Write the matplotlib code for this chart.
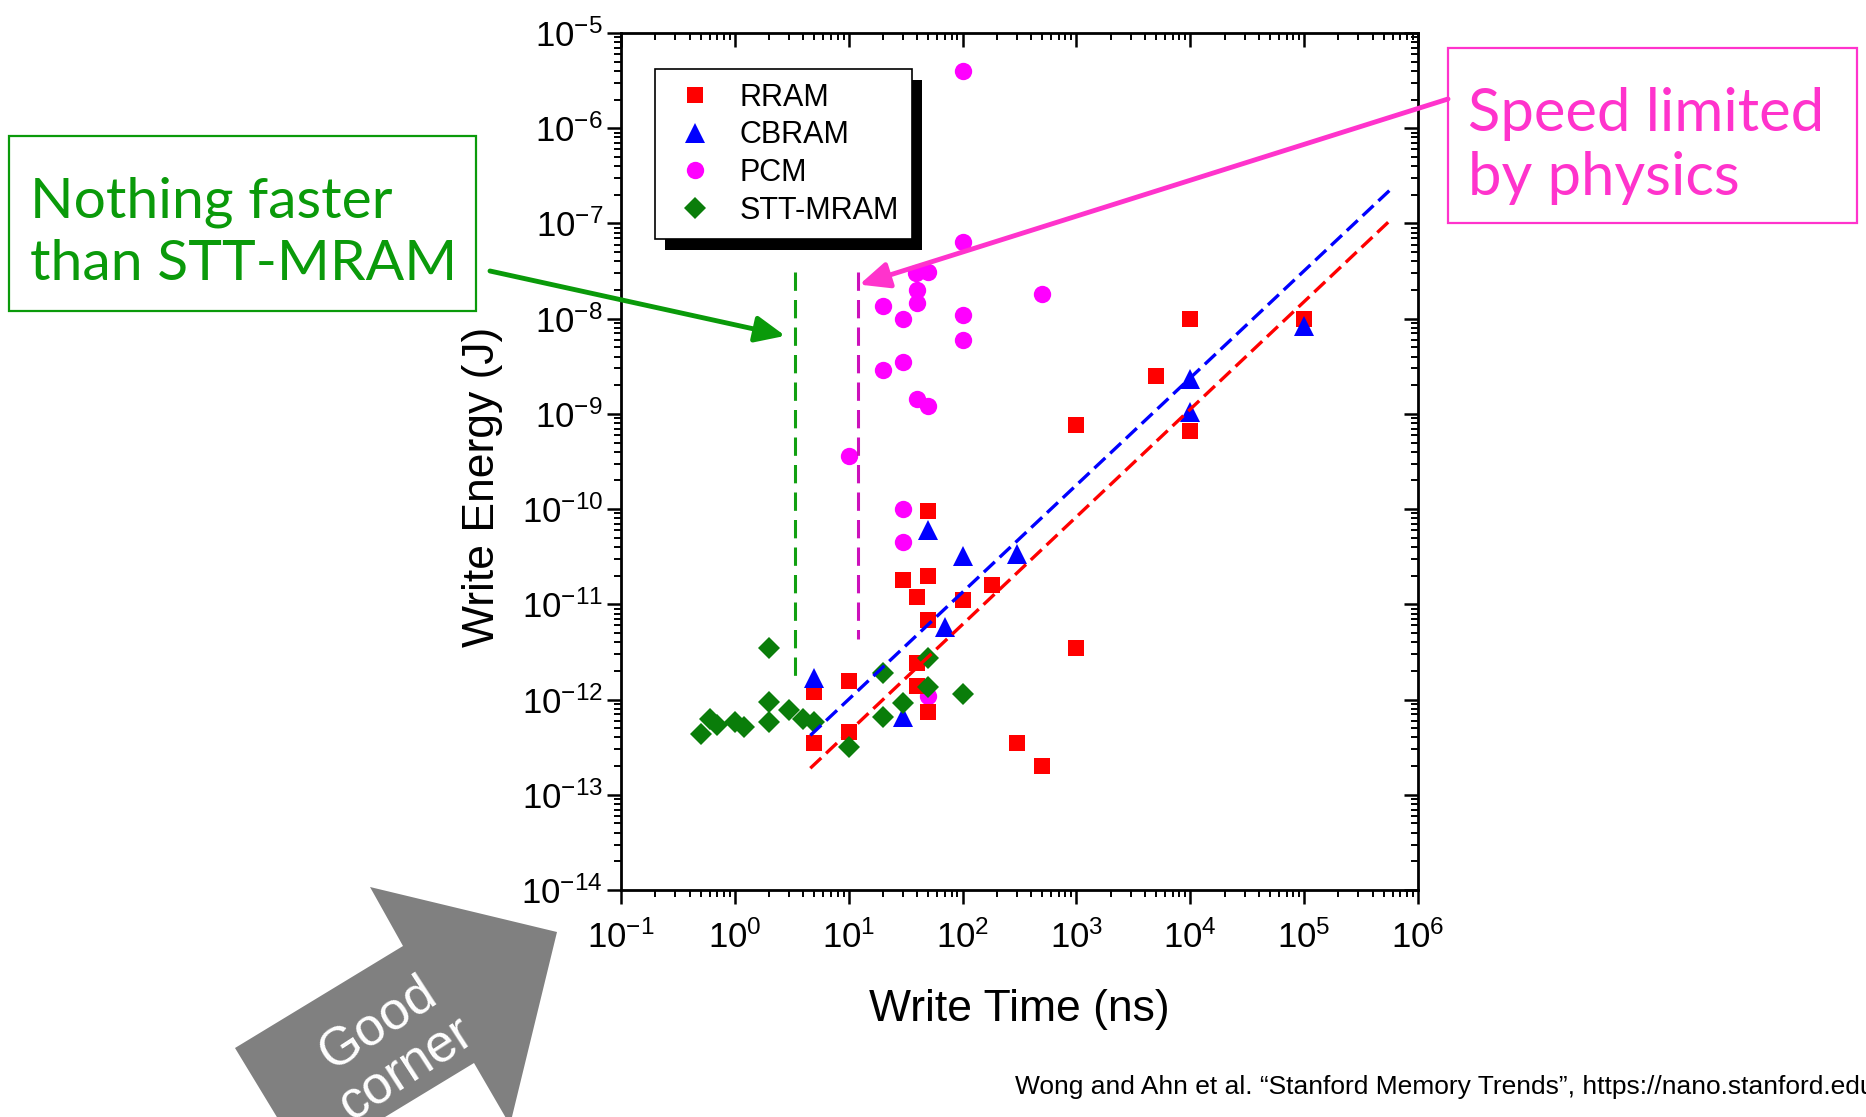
import numpy as np
import matplotlib.pyplot as plt
from matplotlib.patches import Polygon, Rectangle
from matplotlib.ticker import LogLocator, NullFormatter

plt.rcParams['font.family'] = ['Liberation Sans', 'DejaVu Sans']
plt.rcParams['mathtext.default'] = 'regular'

# write time (ns) / write energy (J)
rram_time = [1e4, 1e5, 5e3, 1e3, 1e4, 50, 30, 50, 40, 100, 180, 50, 1e3,
             40, 40, 10, 5, 50, 10, 5, 300, 500]
rram_energy = [1e-8, 1e-8, 2.5e-9, 7.6e-10, 6.6e-10, 9.5e-11, 1.8e-11, 2.0e-11,
               1.2e-11, 1.1e-11, 1.6e-11, 6.8e-12, 3.5e-12, 2.4e-12, 1.4e-12,
               1.55e-12, 1.2e-12, 7.4e-13, 4.6e-13, 3.5e-13, 3.5e-13, 2e-13]

cbram_time = [1e5, 1e4, 1e4, 50, 100, 300, 70, 5, 30]
cbram_energy = [8.3e-9, 2.3e-9, 1.05e-9, 6e-11, 3.2e-11, 3.4e-11, 5.8e-12,
                1.7e-12, 6.6e-13]

pcm_time = [100, 100, 39, 50, 40, 40, 20, 30, 100, 100, 500, 30, 20, 40, 50,
            10, 30, 30, 50]
pcm_energy = [4.0e-6, 6.4e-8, 3.0e-8, 3.1e-8, 2.0e-8, 1.45e-8, 1.35e-8, 1.0e-8,
              1.08e-8, 6e-9, 1.8e-8, 3.5e-9, 2.9e-9, 1.45e-9, 1.2e-9, 3.6e-10,
              1.0e-10, 4.5e-11, 1.1e-12]

stt_time = [2, 20, 50, 50, 100, 30, 2, 2, 3, 4, 5, 20, 10, 0.5, 0.6, 0.7, 1.0, 1.2]
stt_energy = [3.5e-12, 1.9e-12, 2.7e-12, 1.35e-12, 1.15e-12, 9.1e-13, 9.5e-13,
              5.8e-13, 7.8e-13, 6.3e-13, 5.8e-13, 6.6e-13, 3.2e-13, 4.4e-13,
              6.3e-13, 5.4e-13, 5.8e-13, 5.1e-13]

# dashed trend lines (end points)
trend_time = [4.6, 5.8e5]
cbram_trend = [4.2e-13, 2.3e-7]
rram_trend = [1.9e-13, 1.1e-7]

# vertical speed limits
stt_limit_time = [3.36, 3.36]
stt_limit_energy = [3.1e-8, 1.5e-12]
pcm_limit_time = [12, 12]
pcm_limit_energy = [3.1e-8, 4.3e-12]

W, H = 1866, 1117
fig = plt.figure(figsize=(W / 100, H / 100), dpi=100)


def fx(px):
    return px / W


def fy(py):
    return 1 - py / H


ax = fig.add_axes([fx(621), fy(890), (1418 - 621) / W, (890 - 33) / H])

h_pcm, = ax.plot(pcm_time, pcm_energy, ls='none', marker='o', ms=12.5,
                 color='#ff00ff', mew=0)
h_rram, = ax.plot(rram_time, rram_energy, ls='none', marker='s', ms=11.5,
                  color='#ff0000', mew=0)
h_cbram, = ax.plot(cbram_time, cbram_energy, ls='none', marker='^', ms=14,
                   color='#0000ff', mew=0)
h_stt, = ax.plot(stt_time, stt_energy, ls='none', marker='D', ms=11,
                 color='#0a7d0a', mew=0)

ax.plot(trend_time, cbram_trend, color='#0000ff', lw=2.4, ls=(0, (4.5, 2)))
ax.plot(trend_time, rram_trend, color='#ff0000', lw=2.4, ls=(0, (4.5, 2)))
ax.plot(stt_limit_time, stt_limit_energy, color='#11a011', lw=2.2, ls=(0, (6, 3)))
ax.plot(pcm_limit_time, pcm_limit_energy, color='#cc11bb', lw=2.2, ls=(0, (6, 3)))

ax.set_xscale('log')
ax.set_yscale('log')
ax.set_xlim(1e-1, 1e6)
ax.set_ylim(1e-14, 1e-5)
for axis in (ax.xaxis, ax.yaxis):
    axis.set_major_locator(LogLocator(base=10, numticks=20))
    axis.set_minor_locator(LogLocator(base=10, subs=np.arange(2, 10), numticks=200))
    axis.set_minor_formatter(NullFormatter())

for s in ax.spines.values():
    s.set_linewidth(2.0)
ax.tick_params(which='both', direction='out', top=False, right=False,
               labelsize=25)
ax.tick_params(which='major', length=10, width=1.8)
ax.tick_params(which='minor', length=5, width=1.4)
ax.tick_params(axis='x', which='major', pad=12)
ax.tick_params(axis='y', which='major', pad=3)

ax.set_xlabel('Write Time (ns)', fontsize=32)
ax.set_ylabel('Write Energy (J)', fontsize=32)
ax.xaxis.set_label_coords(0.5, -0.116)
ax.yaxis.set_label_coords(-0.148, 0.47)

leg = ax.legend([h_rram, h_cbram, h_pcm, h_stt],
                ['RRAM', 'CBRAM', 'PCM', 'STT-MRAM'],
                loc='upper left', bbox_to_anchor=(0.043, 0.958),
                borderaxespad=0, fancybox=False, edgecolor='black',
                framealpha=1, fontsize=22, handlelength=1.7,
                handletextpad=0.6, labelspacing=0.25, borderpad=0.45,
                numpoints=1)
leg.get_frame().set_linewidth(1.2)

# inward ticks on top and right
ax2 = fig.add_axes(ax.get_position(), sharex=ax, sharey=ax, frameon=False)
ax2.patch.set_visible(False)
ax2.tick_params(which='both', direction='in', top=True, right=True,
                bottom=False, left=False, labelbottom=False, labelleft=False)
ax2.tick_params(which='major', length=10, width=1.8)
ax2.tick_params(which='minor', length=5, width=1.4)

# legend shadow
fig.canvas.draw()
bb = leg.get_window_extent().transformed(ax.transAxes.inverted())
ax.add_patch(Rectangle((bb.x0 + 10 / 797, bb.y0 - 11 / 857), bb.width, bb.height,
                       transform=ax.transAxes, facecolor='black',
                       edgecolor='none', zorder=leg.get_zorder() - 0.1,
                       clip_on=False))

# callouts
green = '#0a9a0a'
pink = '#ff33cc'
fig.add_artist(Rectangle((fx(9), fy(311)), 467 / W, 175 / H, transform=fig.transFigure,
                         facecolor='none', edgecolor=green, lw=1.6))
fig.text(fx(30), fy(280), 'Nothing faster\nthan STT-MRAM', color=green,
         fontsize=41, family='Lato', va='baseline', linespacing=1.26)
fig.add_artist(Rectangle((fx(1448), fy(223)), 409 / W, 175 / H, transform=fig.transFigure,
                         facecolor='none', edgecolor=pink, lw=1.6))
fig.text(fx(1468), fy(195), 'Speed limited\nby physics', color=pink,
         fontsize=43, family='Lato', va='baseline', linespacing=1.22)

ax.annotate('', xy=(2.77, 6.6e-9), xycoords='data',
            xytext=(fx(490), fy(271)), textcoords='figure fraction',
            arrowprops=dict(arrowstyle='-|>,head_length=0.9,head_width=0.4',
                            color=green, lw=3.5, shrinkA=0, shrinkB=0,
                            mutation_scale=20),
            annotation_clip=False)
ax.annotate('', xy=(12.4, 2.28e-8), xycoords='data',
            xytext=(fx(1448), fy(99)), textcoords='figure fraction',
            arrowprops=dict(arrowstyle='-|>,head_length=0.9,head_width=0.4',
                            color=pink, lw=3.5, shrinkA=0, shrinkB=0,
                            mutation_scale=20),
            annotation_clip=False)

# "Good corner" block arrow
arrow_px = [(557, 932), (370, 887), (403, 946), (235, 1048), (306, 1165),
            (474, 1063), (510, 1125)]
fig.add_artist(Polygon([(fx(x), fy(y)) for x, y in arrow_px], closed=True,
                       transform=fig.transFigure, facecolor='#808080',
                       edgecolor='none'))
fig.text(fx(392), fy(1046), 'Good\ncorner', rotation=33, color='white',
         fontsize=38, ha='center', va='center', rotation_mode='anchor',
         multialignment='center', linespacing=1.1)

fig.text(fx(1015), fy(1087),
         'Wong and Ahn et al. \u201cStanford Memory Trends\u201d, https://nano.stanford.edu',
         fontsize=19, ha='left', va='center')

fig.savefig('out.png', dpi=100)
